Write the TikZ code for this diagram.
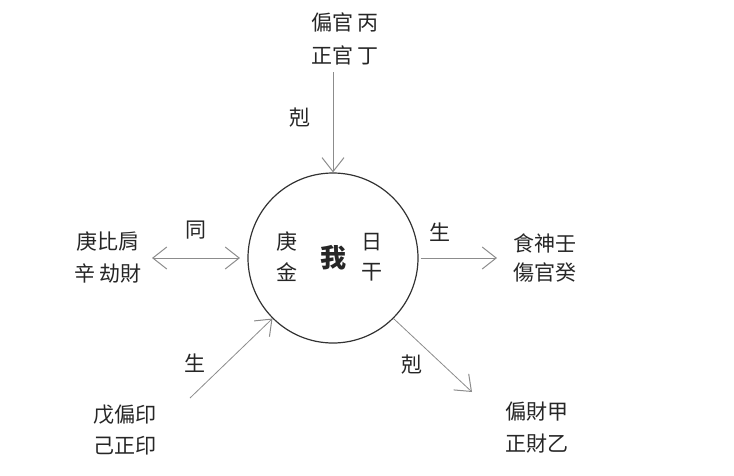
\documentclass[tikz,border=0pt]{standalone}
\usepackage{fontspec}
\newfontfamily\cjk{Noto Sans CJK TC}
\usetikzlibrary{arrows.meta}
\tikzset{
  lbl/.style={font=\cjk\fontsize{21}{25}\selectfont, text=black!85, inner sep=0pt},
  conn/.style={draw=black!45, line width=0.8pt, -{Straight Barb[length=14pt,width=22pt,line width=1pt]}}
}
\begin{document}
\begin{tikzpicture}[x=1pt,y=-1pt]
    \useasboundingbox (0,0) rectangle (734,475);
    \node[circle, draw=black!80, line width=1.2pt, minimum size=170pt, inner sep=0pt] (me) at (333,258) {};
    \node[lbl] at (287,242) {庚};
    \node[lbl] at (287,272) {金};
    \node[lbl, font=\cjk\bfseries\fontsize{26}{30}\selectfont] at (333,258) {我};
    \node[lbl] at (372,242) {日};
    \node[lbl] at (372,272) {干};
    % top
    \node[lbl] (top1) at (345,22) {偏官\ 丙};
    \node[lbl] (top2) at (345,55) {正官\ 丁};
    \coordinate (topend) at (333,72);
    \draw[conn] (topend) -- (me.north);
    \node[lbl] at (300,118) {剋};
    % left
    \node[lbl] (left1) at (108,242) {庚比肩};
    \node[lbl] (left2) at (108,273) {辛\ 劫財};
    \coordinate (leftend) at (152,258);
    \draw[conn, {Straight Barb[length=14pt,width=22pt,line width=1pt]}-{Straight Barb[length=14pt,width=22pt,line width=1pt]}] (leftend) -- (240,258);
    \node[lbl] at (196,230) {同};
    % right
    \node[lbl] (right1) at (545,243) {食神壬};
    \node[lbl] (right2) at (545,273) {傷官癸};
    \coordinate (rightend) at (497,258);
    \draw[conn] (me.east) ++(2,0) -- (rightend);
    \node[lbl] at (440,232) {生};
    % lower right
    \node[lbl] (lr1) at (537,412) {偏財甲};
    \node[lbl] (lr2) at (537,444) {正財乙};
    \coordinate (lrend) at (472,392);
    \draw[conn] (me.-45) -- (lrend);
    \node[lbl] at (412,365) {剋};
    % lower left
    \node[lbl] (ll1) at (125,415) {戊偏印};
    \node[lbl] (ll2) at (125,446) {己正印};
    \coordinate (llend) at (190,398);
    \draw[conn] (llend) -- (me.-135);
    \node[lbl] at (195,363) {生};
\end{tikzpicture}
\end{document}
